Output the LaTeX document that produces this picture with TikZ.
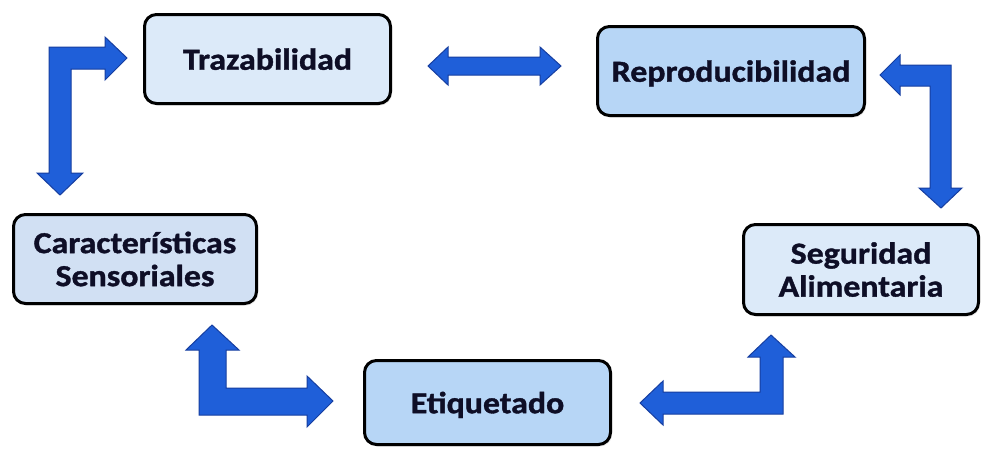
\documentclass[tikz,border=0pt]{standalone}
\usepackage{fontspec}
\newfontfamily\labfont[FakeStretch=1.11, BoldFeatures={FakeBold=1.2}]{Carlito}
\usetikzlibrary{shadows}
\definecolor{arrowblue}{RGB}{31,95,217}
\definecolor{arrowedge}{RGB}{22,62,160}
\definecolor{txt}{RGB}{14,14,38}
\definecolor{lightbox}{RGB}{220,234,249}
\definecolor{midbox}{RGB}{183,214,246}
\definecolor{greybox}{RGB}{209,224,243}
\begin{document}
\begin{tikzpicture}[x=1pt,y=-1pt,
  box/.style={draw=black, line width=3pt, rounded corners=12pt, align=center,
    text=txt, font=\labfont\bfseries\fontsize{30.5}{33}\selectfont, inner sep=0pt,
    drop shadow={opacity=0.18, shadow xshift=1.5pt, shadow yshift=-2pt}},
  oneline/.style={text depth=0pt},
  blockarrow/.style={fill=arrowblue, draw=arrowedge, line width=1pt, line join=miter}]
\useasboundingbox (0,0) rectangle (982,448);
\fill[white] (0,0) rectangle (982,448);

% boxes
\node[box, oneline, fill=lightbox, minimum width=246pt, minimum height=89pt] (traz) at (267.5,59) {Trazabilidad};
\node[box, oneline, fill=midbox, minimum width=267pt, minimum height=89pt] (repro) at (731,71) {Reproducibilidad};
\node[box, fill=greybox, minimum width=243pt, minimum height=89pt] (carac) at (135,259) {Características\\Sensoriales};
\node[box, fill=lightbox, minimum width=235pt, minimum height=90pt] (segur) at (861,269.5) {Seguridad\\Alimentaria};
\node[box, oneline, fill=midbox, minimum width=246pt, minimum height=84pt] (etiq) at (487.5,402.5) {Etiquetado};

% block arrows
% top-left: right and down
\draw[blockarrow] (49,47) -- (105,47) -- (105,37) -- (127,58) -- (105,80) -- (105,69)
  -- (71,69) -- (71,173) -- (83,173) -- (60,195) -- (37,173) -- (49,173) -- cycle;
% top: double horizontal
\draw[blockarrow] (428,66) -- (448,47) -- (448,57) -- (540,57) -- (540,47) -- (561,66)
  -- (540,85) -- (540,75) -- (448,75) -- (448,85) -- cycle;
% top-right: left and down
\draw[blockarrow] (880,75) -- (900,55) -- (900,65) -- (951,65) -- (951,188) -- (962,188)
  -- (941,208) -- (919,188) -- (930,188) -- (930,86) -- (900,86) -- (900,95) -- cycle;
% bottom-left: up and right
\draw[blockarrow] (212,325) -- (239,350) -- (226,350) -- (226,388) -- (307,388) -- (307,376)
  -- (333,401) -- (307,427) -- (307,415) -- (199,415) -- (199,350) -- (186,350) -- cycle;
% bottom-right: up and left
\draw[blockarrow] (771,335) -- (795,357) -- (783,357) -- (783,414) -- (663,414) -- (663,425)
  -- (640,403) -- (663,381) -- (663,392) -- (760,392) -- (760,357) -- (748,357) -- cycle;
\end{tikzpicture}
\end{document}
